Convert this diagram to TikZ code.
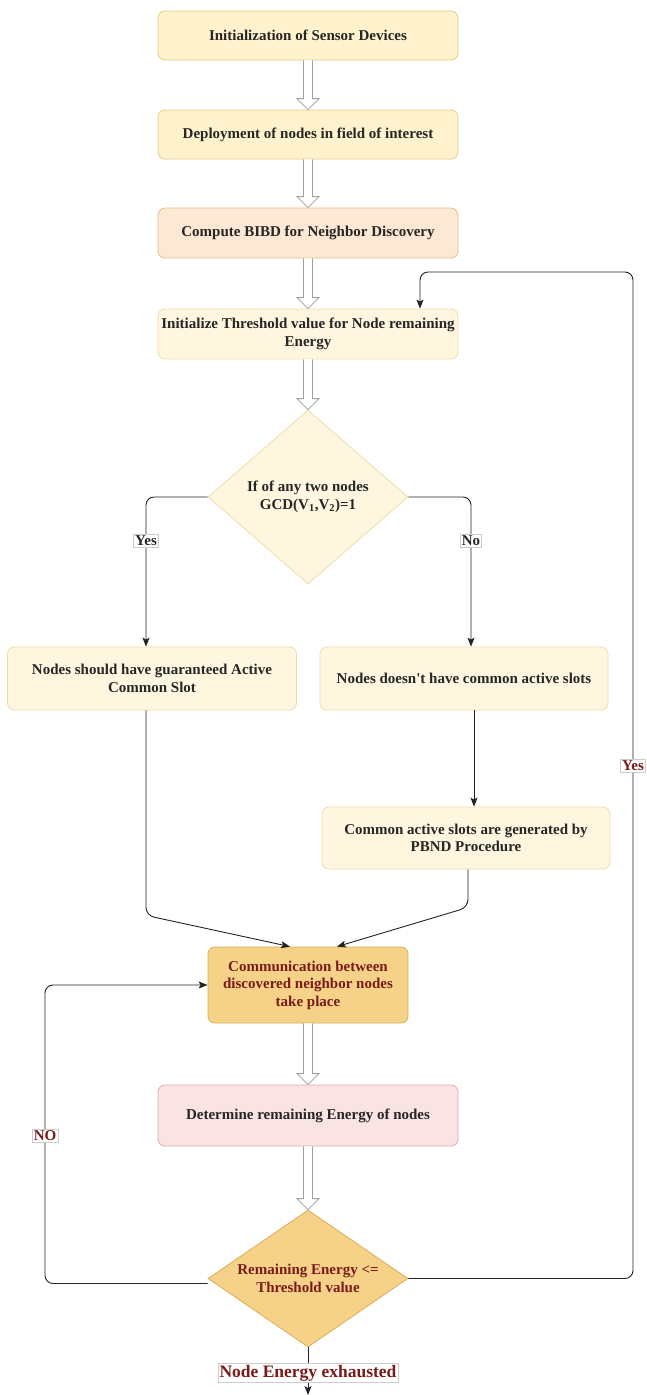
\documentclass[tikz,border=0pt]{standalone}
\usepackage{fontspec}
\setmainfont{Liberation Serif}
\usetikzlibrary{shapes.geometric,arrows.meta,calc}
\definecolor{ylwfill}{HTML}{FFF2CC}
\definecolor{ylwdraw}{HTML}{E4CC85}
\definecolor{lyfill}{HTML}{FFF6E0}
\definecolor{lydraw}{HTML}{EEDDAA}
\definecolor{orfill}{HTML}{FCE8D3}
\definecolor{ordraw}{HTML}{E9BC8C}
\definecolor{gofill}{HTML}{F6D288}
\definecolor{godraw}{HTML}{D9AE58}
\definecolor{pkfill}{HTML}{FAE3E3}
\definecolor{pkdraw}{HTML}{E2A8A8}
\definecolor{txt}{HTML}{262626}
\definecolor{dred}{HTML}{7A1A1A}
\definecolor{linec}{HTML}{222222}
\newcommand\blkarrow[2]{%
  \draw[blockarr] let \p1=(#1.south), \p2=(#2.north) in
    (\x1-4.5pt,\y1) -- (\x1-4.5pt,\y2+11pt) -- (\x1-11pt,\y2+11pt) -- (\x1,\y2)
    -- (\x1+11pt,\y2+11pt) -- (\x1+4.5pt,\y2+11pt) -- (\x1+4.5pt,\y1);}
\begin{document}
\begin{tikzpicture}[x=1pt,y=-1pt,
  box/.style={rectangle, rounded corners=7pt, line width=0.8pt, align=center,
    font=\fontsize{15}{17.5}\selectfont\bfseries, inner sep=2pt, text=txt},
  dia/.style={diamond, aspect=1, inner sep=0pt, line width=0.8pt, align=center,
    font=\fontsize{15}{17.5}\selectfont\bfseries, text=txt},
  blockarr/.style={draw=gray!75, fill=white, line width=0.8pt, line join=miter},
  conn/.style={draw=linec, line width=0.9pt, rounded corners=8pt,
    -{Stealth[length=9pt,width=7pt,inset=2pt]}},
  lbl/.style={fill=white, draw=gray!40, line width=0.5pt, inner sep=1.5pt,
    font=\fontsize{15}{16}\selectfont\bfseries}]
\useasboundingbox (0,0) rectangle (647,1395);

\node[box, fill=ylwfill, draw=ylwdraw, minimum width=300pt, minimum height=49pt] (b1) at (308,35.5) {Initialization of Sensor Devices};
\node[box, fill=ylwfill, draw=ylwdraw, minimum width=300pt, minimum height=49pt] (b2) at (308,134.5) {Deployment of nodes in field of interest};
\node[box, fill=orfill, draw=ordraw, minimum width=300pt, minimum height=50pt] (b3) at (308,233) {Compute BIBD for Neighbor Discovery};
\node[box, fill=lyfill, draw=lydraw, minimum width=300pt, minimum height=50pt] (b4) at (308,334) {Initialize Threshold value for Node remaining\\Energy};
\node[dia, aspect=1.15, fill=lyfill, draw=lydraw, minimum width=200pt, minimum height=174pt] (d1) at (308,497) {If of any two nodes\\GCD(V\textsubscript{1},V\textsubscript{2})=1};
\node[box, fill=lyfill, draw=lydraw, minimum width=289pt, minimum height=63pt] (b5) at (152,678.5) {Nodes should have guaranteed Active\\Common Slot};
\node[box, fill=lyfill, draw=lydraw, minimum width=288pt, minimum height=63pt] (b6) at (464,678.5) {Nodes doesn\textquotesingle t have common active slots};
\node[box, fill=lyfill, draw=lydraw, minimum width=288pt, minimum height=62pt] (b7) at (466,838) {Common active slots are generated by\\PBND Procedure};
\node[box, fill=gofill, draw=godraw, text=dred, minimum width=200pt, minimum height=76pt] (b8) at (308,985) {Communication between\\discovered neighbor nodes\\take place};
\node[box, fill=pkfill, draw=pkdraw, minimum width=300pt, minimum height=61pt] (b9) at (308,1115.5) {Determine remaining Energy of nodes};
\node[dia, aspect=1.55, fill=gofill, draw=godraw, text=dred, minimum width=200pt, minimum height=137pt] (d2) at (308,1278.5) {Remaining Energy <=\\Threshold value};

\blkarrow{b1}{b2}
\blkarrow{b2}{b3}
\blkarrow{b3}{b4}
\blkarrow{b4}{d1}
\blkarrow{b8}{b9}
\blkarrow{b9}{d2}

\coordinate (rx) at (633,272);
\coordinate (lx) at (45,0);
\coordinate (ex) at (308,1395);

\draw[conn] (d1.west) -| ([xshift=-6pt]b5.north);
\draw[conn] (d1.east) -| ([xshift=7pt]b6.north);
\draw[conn] ([xshift=10pt]b6.south) -- ([xshift=8pt]b7.north);
\draw[conn] ([xshift=-6pt]b5.south) -- ([xshift=-6pt,yshift=-205pt]b5.south) -- ([xshift=-18pt]b8.north);
\draw[conn] ([xshift=2pt]b7.south) -- ([xshift=2pt,yshift=-38pt]b7.south) -- ([xshift=29pt]b8.north);
\draw[conn] (d2.east) -| (rx) -| ([xshift=112pt]b4.north);
\draw[conn] ([yshift=-5pt]d2.west) -| (b8.west -| lx) -- (b8.west);
\draw[conn] (d2.south) -- (ex);

\node[lbl, text=txt] (yes1) at (146,541) {Yes};
\node[lbl, text=txt] (no1) at (471,541) {No};
\node[lbl, text=dred] (yes2) at (633,766) {Yes};
\node[lbl, text=dred] (no2) at (45,1136) {NO};
\node[lbl, text=dred, font=\fontsize{17.5}{19}\selectfont\bfseries] (exh) at (308,1373) {Node Energy exhausted};
\end{tikzpicture}
\end{document}
